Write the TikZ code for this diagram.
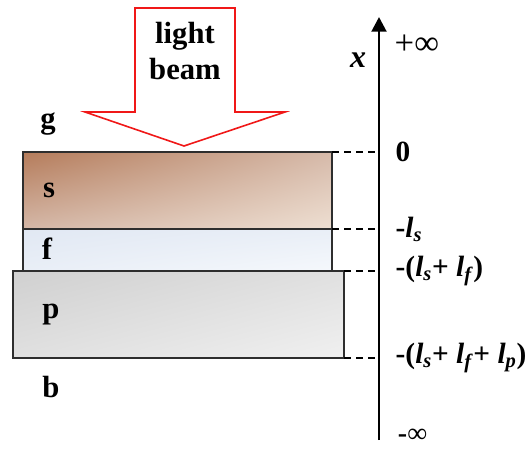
\documentclass[tikz,border=0pt]{standalone}
\usepackage{fontspec}
\setmainfont{Liberation Serif}
\usetikzlibrary{arrows.meta,shadings}
\definecolor{beamred}{HTML}{F01818}
\definecolor{edge}{HTML}{2E2E2E}
\definecolor{sul}{HTML}{B57C5B}
\definecolor{sur}{HTML}{D6BAAA}
\definecolor{sll}{HTML}{D4B7A7}
\definecolor{slr}{HTML}{EEDFD2}
\definecolor{ful}{HTML}{E1E8F3}
\definecolor{flr}{HTML}{F5F8FC}
\definecolor{pul}{HTML}{D0D0D0}
\definecolor{plr}{HTML}{F0F0F0}
\newcommand{\lx}[1]{\textit{l}\textsubscript{\textit{#1}}}

\begin{document}
\begin{tikzpicture}[x=0.75pt,y=-0.75pt,every node/.style={font=\fontsize{23}{27}\selectfont\bfseries}]
\useasboundingbox (0,0) rectangle (530,450);
% incoming beam
\draw[beamred,line width=1.2pt,fill=white,line join=miter]
  (135,8) -- (235,8) -- (235,112) -- (285,112) -- (184,146) -- (85,112) -- (135,112) -- cycle;
\node[align=center] (beam) at (185,51) {light\\beam};
% layers s, f, p
\shade[upper left=sul,upper right=sur,lower left=sll,lower right=slr] (23,152) rectangle (332,229);
\shade[upper left=ful,upper right=ful!60!flr,lower left=ful!60!flr,lower right=flr] (23,229) rectangle (332,271);
\shade[upper left=pul,upper right=pul!50!plr,lower left=pul!50!plr,lower right=plr] (13,271) rectangle (344,358);
\draw[edge,line width=1.1pt] (23,152) rectangle (332,229);
\draw[edge,line width=1.1pt] (23,229) rectangle (332,271);
\draw[edge,line width=1.1pt] (13,271) rectangle (344,358);
\foreach \n/\x/\y in {g/48/124,s/49/190,f/47/249,p/51/315,b/51/387}
  \node (lab\n) at (\x,\y) {\n};
% axis
\coordinate (axb) at (379,440);
\coordinate (axt) at (379,17);
\draw[-{Triangle[length=11pt,width=11pt]},line width=2.2pt] (axb) -- (axt);
\node[font=\fontsize{24}{27}\selectfont\bfseries\itshape] (xlab) at (358,60) {x};
\node[anchor=west,font=\fontsize{26}{29}\selectfont] (pinf) at (390,45) {+∞};
\node[anchor=west,font=\fontsize{21}{24}\selectfont,inner sep=2pt] (minf) at (395,436) {\textbf{-}∞};
\foreach \n/\xr/\y/\lab in {0/332/152/{0},1/332/229/{-\lx{s}},2/344/271/{-(\lx{s}+ \lx{f})},3/344/358/{-(\lx{s}+ \lx{f}+ \lx{p})}}{
  \coordinate (e\n) at (\xr,\y);
  \draw[dash pattern=on 5pt off 4pt,line width=0.9pt] (e\n) -- (e\n -| axb);
  \node[anchor=west,font=\fontsize{22}{25}\selectfont\bfseries] (tick\n) at (391,\y) {\lab};
}
\end{tikzpicture}
\end{document}
